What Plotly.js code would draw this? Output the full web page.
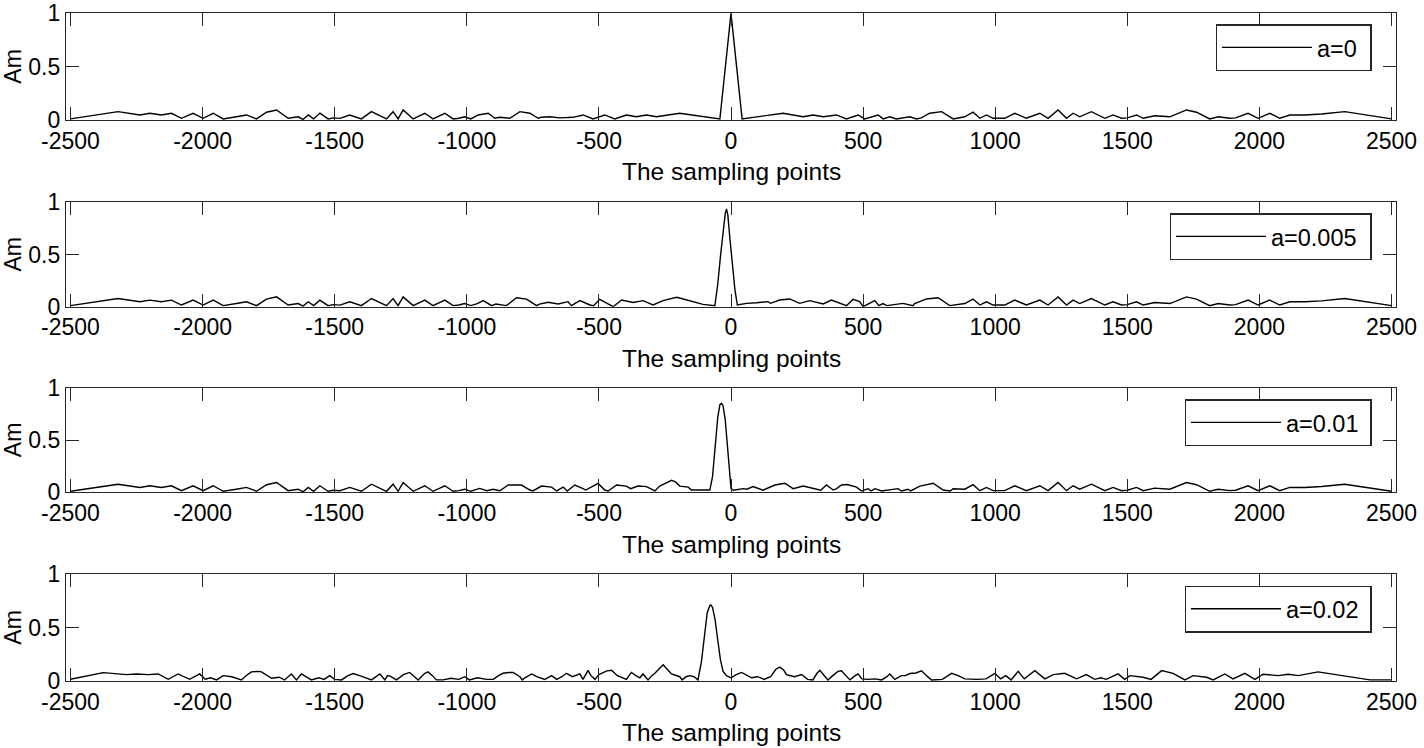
<!DOCTYPE html>
<html>
<head>
<meta charset="utf-8">
<script src="https://cdn.plot.ly/plotly-3.0.1.min.js"></script>
<style>html,body{margin:0;padding:0;background:#fff;}#chart{width:1424px;height:748px;}</style>
</head>
<body>
<div id="chart"></div>
<script>
// ---------- tick labels ----------
const xTickVals = [-2500, -2000, -1500, -1000, -500, 0, 500, 1000, 1500, 2000, 2500];
const xTickText = ['-2500', '-2000', '-1500', '-1000', '-500', '0', '500', '1000', '1500', '2000', '2500'];
const yTickVals = [0, 0.5, 1];
const yTickText = ['0', '0.5', '1'];
const seriesNames = ['a=0', 'a=0.005', 'a=0.01', 'a=0.02'];

// ---------- series a=0 ----------
const x_a0 = [-2500,-2320,-2237,-2200,-2156,-2118,-2080,-2036,-1998,-1960,-1922,-1900,-1872,-1834,-1796,-1758,-1720,-1676,-1638,-1620,-1600,-1580,-1556,-1525,-1505,-1480,-1443,-1399,-1361,-1304,-1279,-1260,-1241,-1203,-1159,-1128,-1083,-1052,-1030,-1008,-985,-957,-919,-894,-875,-837,-799,-761,-730,-718,-686,-648,-620,-598,-560,-522,-478,-440,-396,-358,-320,-282,-194,-42,0,42,197,273,311,349,399,437,481,506,557,576,601,626,677,702,720,752,797,841,885,916,942,967,992,1036,1074,1118,1169,1200,1238,1270,1295,1320,1364,1415,1446,1478,1500,1535,1560,1604,1661,1724,1762,1812,1844,1888,1910,1957,1995,2039,2077,2115,2172,2235,2323,2500];
const y_a0 = [0.01,0.078,0.047,0.063,0.047,0.063,0.016,0.063,0.016,0.063,0.01,0.016,0.03,0.047,0.01,0.073,0.094,0.016,0.03,0.005,0.047,0.01,0.063,0.01,0.02,0.015,0.047,0.01,0.078,0.01,0.078,0.01,0.094,0.01,0.063,0.01,0.063,0.01,0.016,0.03,0.01,0.047,0.063,0.016,0.025,0.016,0.078,0.063,0.016,0.025,0.03,0.02,0.025,0.025,0.047,0.01,0.047,0.01,0.047,0.03,0.047,0.03,0.063,0.01,1.0,0.01,0.063,0.03,0.047,0.03,0.047,0.01,0.047,0.01,0.047,0.01,0.03,0.01,0.03,0.01,0.02,0.063,0.078,0.01,0.03,0.073,0.016,0.047,0.016,0.016,0.063,0.016,0.063,0.016,0.094,0.016,0.063,0.03,0.078,0.016,0.047,0.016,0.02,0.047,0.016,0.04,0.03,0.094,0.073,0.01,0.03,0.016,0.02,0.063,0.016,0.063,0.016,0.047,0.047,0.056,0.078,0.01];

// ---------- series a=0.005 ----------
const x_a005 = [-2500,-2320,-2237,-2200,-2156,-2118,-2080,-2036,-1998,-1960,-1922,-1900,-1872,-1834,-1796,-1758,-1720,-1676,-1638,-1620,-1600,-1580,-1556,-1525,-1505,-1480,-1443,-1399,-1361,-1304,-1279,-1260,-1241,-1203,-1159,-1128,-1083,-1052,-1030,-1008,-985,-960,-938,-906,-890,-850,-812,-774,-736,-725,-692,-654,-617,-604,-572,-534,-520,-497,-446,-414,-370,-333,-295,-257,-206,-181,-143,-106,-61,-50,-40,-30,-22,-17,-12,-4,6,15,24,59,97,140,150,184,222,260,298,349,380,412,437,462,487,500,544,560,575,590,651,689,695,740,784,828,885,916,942,967,992,1036,1074,1118,1169,1200,1238,1270,1295,1320,1364,1415,1446,1478,1500,1535,1560,1604,1661,1724,1762,1812,1844,1888,1910,1957,1995,2039,2077,2115,2172,2235,2323,2500];
const y_a005 = [0.01,0.078,0.047,0.063,0.047,0.063,0.016,0.063,0.016,0.063,0.01,0.016,0.03,0.047,0.01,0.073,0.094,0.016,0.03,0.005,0.047,0.01,0.063,0.01,0.02,0.015,0.047,0.01,0.078,0.01,0.078,0.01,0.094,0.01,0.063,0.01,0.063,0.01,0.016,0.03,0.01,0.03,0.058,0.01,0.025,0.01,0.086,0.073,0.01,0.025,0.042,0.026,0.048,0.01,0.058,0.016,0.01,0.07,0.0,0.064,0.04,0.058,0.016,0.058,0.09,0.074,0.048,0.022,0.01,0.22,0.48,0.72,0.89,0.937,0.88,0.65,0.38,0.16,0.016,0.032,0.038,0.048,0.032,0.064,0.074,0.032,0.058,0.026,0.064,0.032,0.01,0.07,0.048,0.0,0.058,0.01,0.03,0.01,0.032,0.01,0.03,0.074,0.086,0.01,0.03,0.073,0.016,0.047,0.016,0.016,0.063,0.016,0.063,0.016,0.094,0.016,0.063,0.03,0.078,0.016,0.047,0.016,0.02,0.047,0.016,0.04,0.03,0.094,0.073,0.01,0.03,0.016,0.02,0.063,0.016,0.063,0.016,0.047,0.047,0.056,0.078,0.01];

// ---------- series a=0.01 ----------
const x_a01 = [-2500,-2320,-2237,-2200,-2156,-2118,-2080,-2036,-1998,-1960,-1922,-1900,-1872,-1834,-1796,-1758,-1720,-1676,-1638,-1620,-1600,-1580,-1556,-1525,-1505,-1480,-1443,-1399,-1361,-1304,-1279,-1260,-1241,-1203,-1159,-1128,-1083,-1052,-1030,-1008,-985,-951,-925,-900,-875,-843,-793,-761,-750,-717,-679,-660,-635,-620,-591,-560,-550,-515,-503,-478,-465,-433,-396,-380,-352,-320,-288,-270,-240,-225,-210,-194,-162,-150,-118,-80,-70,-60,-50,-42,-36,-30,-22,-12,-4,0,10,46,60,84,121,150,166,204,220,235,273,311,340,361,387,400,418,440,475,494,519,530,545,570,632,645,670,680,715,765,803,830,841,885,916,942,967,992,1036,1074,1118,1169,1200,1238,1270,1295,1320,1364,1415,1446,1478,1500,1535,1560,1604,1661,1724,1762,1812,1844,1888,1910,1957,1995,2039,2077,2115,2172,2235,2323,2500];
const y_a01 = [0.01,0.078,0.047,0.063,0.047,0.063,0.016,0.063,0.016,0.063,0.01,0.016,0.03,0.047,0.01,0.073,0.094,0.016,0.03,0.005,0.047,0.01,0.063,0.01,0.02,0.015,0.047,0.01,0.078,0.01,0.078,0.01,0.094,0.01,0.063,0.01,0.063,0.01,0.016,0.03,0.01,0.038,0.015,0.03,0.015,0.07,0.07,0.022,0.013,0.06,0.05,0.013,0.05,0.013,0.07,0.035,0.022,0.07,0.085,0.022,0.013,0.07,0.06,0.035,0.06,0.055,0.013,0.06,0.1,0.115,0.1,0.06,0.05,0.022,0.022,0.022,0.15,0.45,0.72,0.84,0.853,0.83,0.7,0.4,0.15,0.035,0.02,0.035,0.03,0.055,0.02,0.055,0.07,0.087,0.06,0.035,0.06,0.035,0.02,0.07,0.022,0.035,0.07,0.075,0.05,0.013,0.035,0.013,0.035,0.013,0.035,0.013,0.03,0.013,0.06,0.087,0.022,0.013,0.035,0.03,0.073,0.016,0.047,0.016,0.016,0.063,0.016,0.063,0.016,0.094,0.016,0.063,0.03,0.078,0.016,0.047,0.016,0.02,0.047,0.016,0.04,0.03,0.094,0.073,0.01,0.03,0.016,0.02,0.063,0.016,0.063,0.016,0.047,0.047,0.056,0.078,0.01];

// ---------- series a=0.02 ----------
const x_a02 = [-2500,-2376,-2288,-2250,-2206,-2168,-2130,-2093,-2049,-2011,-1990,-1970,-1947,-1922,-1890,-1853,-1830,-1815,-1790,-1777,-1739,-1710,-1690,-1664,-1645,-1626,-1588,-1560,-1540,-1519,-1500,-1474,-1450,-1430,-1400,-1361,-1329,-1310,-1300,-1290,-1266,-1240,-1216,-1200,-1184,-1160,-1147,-1130,-1115,-1090,-1060,-1030,-1008,-990,-960,-925,-900,-880,-863,-840,-825,-799,-790,-780,-755,-735,-705,-679,-660,-640,-623,-600,-572,-560,-541,-530,-515,-500,-470,-452,-430,-396,-377,-360,-345,-333,-314,-300,-288,-270,-257,-245,-225,-194,-185,-170,-156,-140,-125,-112,-100,-90,-80,-76,-70,-60,-50,-40,-30,-17,0,20,40,60,78,100,125,150,170,185,200,210,240,267,290,310,325,336,350,367,385,405,418,435,450,470,481,495,520,544,570,590,601,620,645,660,677,700,721,740,759,800,820,835,860,885,930,965,985,999,1020,1040,1060,1087,1110,1150,1188,1220,1263,1308,1345,1377,1400,1420,1465,1490,1510,1560,1590,1630,1673,1718,1749,1800,1825,1869,1900,1945,1983,2014,2071,2109,2147,2222,2418,2500];
const y_a02 = [0.016,0.078,0.06,0.066,0.06,0.066,0.016,0.066,0.016,0.066,0.016,0.03,0.01,0.05,0.04,0.01,0.06,0.085,0.09,0.085,0.025,0.035,0.01,0.066,0.01,0.066,0.01,0.03,0.015,0.05,0.015,0.01,0.05,0.07,0.045,0.01,0.066,0.01,0.05,0.045,0.01,0.06,0.08,0.04,0.01,0.07,0.085,0.05,0.01,0.01,0.025,0.015,0.04,0.01,0.03,0.015,0.015,0.05,0.072,0.08,0.08,0.04,0.01,0.03,0.066,0.04,0.015,0.05,0.015,0.04,0.072,0.04,0.066,0.015,0.1,0.05,0.015,0.06,0.095,0.1,0.05,0.015,0.08,0.05,0.03,0.066,0.01,0.05,0.072,0.12,0.152,0.12,0.066,0.04,0.01,0.04,0.05,0.04,0.01,0.18,0.45,0.64,0.71,0.712,0.69,0.57,0.38,0.2,0.09,0.05,0.03,0.06,0.08,0.05,0.03,0.04,0.015,0.04,0.11,0.13,0.1,0.06,0.04,0.06,0.015,0.01,0.07,0.1,0.06,0.01,0.05,0.09,0.095,0.05,0.01,0.05,0.066,0.02,0.015,0.02,0.01,0.04,0.066,0.015,0.05,0.05,0.07,0.075,0.095,0.05,0.01,0.015,0.05,0.072,0.05,0.02,0.015,0.02,0.05,0.072,0.02,0.05,0.01,0.09,0.02,0.097,0.02,0.06,0.072,0.02,0.06,0.015,0.03,0.015,0.066,0.015,0.05,0.035,0.015,0.097,0.072,0.01,0.05,0.035,0.01,0.066,0.02,0.072,0.015,0.063,0.05,0.063,0.05,0.085,0.01,0.01];

const xs = [x_a0, x_a005, x_a01, x_a02];
const ys = [y_a0, y_a005, y_a01, y_a02];

// ---------- styling ----------
const FONT = 'Liberation Sans, Arial, Helvetica, sans-serif';
const AX = '#262626';
const domains = [[0.8396, 0.9822], [0.5900, 0.7295], [0.3418, 0.4813], [0.0896, 0.2322]];
const legendTops = [0.9675, 0.7148, 0.4662, 0.2170];
const legendEntryWidths = [48, 94, 79, 79];

const traces = [];
const layout = {
  width: 1424, height: 748,
  margin: {l: 66, r: 28, t: 0, b: 0, pad: 0},
  paper_bgcolor: '#ffffff', plot_bgcolor: '#ffffff',
  font: {family: FONT, size: 23, color: '#000000'},
  showlegend: true,
  annotations: []
};

for (let i = 0; i < 4; i++) {
  const sfx = i === 0 ? '' : String(i + 1);
  traces.push({
    type: 'scatter', mode: 'lines',
    x: xs[i], y: ys[i], name: seriesNames[i],
    xaxis: 'x' + sfx, yaxis: 'y' + sfx,
    legend: 'legend' + sfx,
    legendwidth: legendEntryWidths[i],
    line: {color: '#000000', width: 1.4},
    hoverinfo: 'x+y'
  });
  layout['xaxis' + sfx] = {
    domain: [0, 1], anchor: 'y' + sfx, range: [-2517, 2517],
    tickmode: 'array', tickvals: xTickVals, ticktext: xTickText,
    ticks: 'inside', ticklen: 13, tickwidth: 1.3, tickcolor: AX,
    showline: true, linecolor: AX, linewidth: 1.3, mirror: 'ticks',
    showgrid: false, zeroline: false,
    tickfont: {family: FONT, size: 23, color: '#000000'}
  };
  layout['yaxis' + sfx] = {
    domain: domains[i], anchor: 'x' + sfx, range: [0, 1],
    tickmode: 'array', tickvals: yTickVals, ticktext: yTickText,
    ticks: 'inside', ticklen: 13, tickwidth: 1.3, tickcolor: AX,
    showline: true, linecolor: AX, linewidth: 1.3, mirror: 'ticks',
    showgrid: false, zeroline: false,
    tickfont: {family: FONT, size: 23, color: '#000000'}
  };
  layout['legend' + sfx] = {
    orientation: 'h',
    x: 0.9817, xanchor: 'right', y: legendTops[i], yanchor: 'top',
    bgcolor: '#ffffff', bordercolor: AX, borderwidth: 1.3,
    font: {family: FONT, size: 23.5, color: '#000000'},
    itemwidth: 90
  };
  layout.annotations.push({
    text: 'The sampling points', showarrow: false,
    xref: 'x' + sfx + ' domain', yref: 'y' + sfx + ' domain',
    x: 0.5, y: 0, xanchor: 'center', yanchor: 'middle', yshift: -52,
    font: {family: FONT, size: 24.5, color: '#000000'}
  });
  layout.annotations.push({
    text: 'Am', showarrow: false, textangle: -90,
    xref: 'x' + sfx + ' domain', yref: 'y' + sfx + ' domain',
    x: 0, y: 0.5, xanchor: 'center', yanchor: 'middle', xshift: -53,
    font: {family: FONT, size: 23, color: '#000000'}
  });
}

Plotly.newPlot('chart', traces, layout, {displayModeBar: false});
</script>
</body>
</html>
